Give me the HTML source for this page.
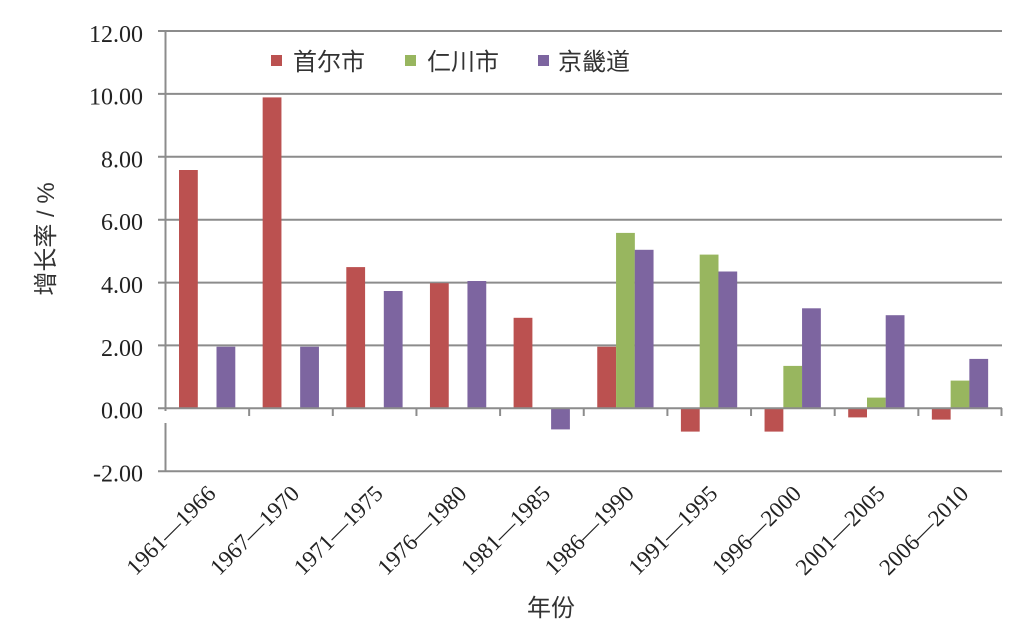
<!DOCTYPE html>
<html>
<head>
<meta charset="utf-8">
<style>
  html, body { margin:0; padding:0; background:#fff; }
  svg { display:block; }
  .yl { font-family:"Liberation Serif", serif; font-size:24px; fill:#222; }
  .xl { font-family:"Liberation Serif", serif; font-size:23px; fill:#222; }
  .cj { font-family:"Liberation Sans","Noto Sans CJK SC", sans-serif; font-size:24px; fill:#333; }
</style>
</head>
<body>
<svg width="1033" height="637" viewBox="0 0 1033 637" xmlns="http://www.w3.org/2000/svg">
  <rect width="1033" height="637" fill="#fff"/>
  <!-- gridlines -->
  <g stroke="#8c8c8c" stroke-width="2">
    <line x1="158" y1="31" x2="1002" y2="31"/>
    <line x1="158" y1="93.9" x2="1002" y2="93.9"/>
    <line x1="158" y1="156.8" x2="1002" y2="156.8"/>
    <line x1="158" y1="219.7" x2="1002" y2="219.7"/>
    <line x1="158" y1="282.6" x2="1002" y2="282.6"/>
    <line x1="158" y1="345.4" x2="1002" y2="345.4"/>
    <line x1="158" y1="471.2" x2="1002" y2="471.2"/>
  </g>
  <!-- bars -->
  <g fill="#BB5150">
    <rect x="179.0" y="170.0" width="18.8" height="238.3"/>
    <rect x="262.65" y="97.4" width="18.8" height="310.9"/>
    <rect x="346.3" y="267.1" width="18.8" height="141.2"/>
    <rect x="429.95" y="283.2" width="18.8" height="125.1"/>
    <rect x="513.6" y="317.8" width="18.8" height="90.5"/>
    <rect x="597.25" y="346.7" width="18.8" height="61.6"/>
    <rect x="680.9" y="408.3" width="18.8" height="23.3"/>
    <rect x="764.55" y="408.3" width="18.8" height="23.3"/>
    <rect x="848.2" y="408.3" width="18.8" height="9.1"/>
    <rect x="931.85" y="408.3" width="18.8" height="11.3"/>
  </g>
  <g fill="#98B65F">
    <rect x="616.05" y="232.9" width="18.8" height="175.4"/>
    <rect x="699.7" y="254.6" width="18.8" height="153.7"/>
    <rect x="783.35" y="365.9" width="18.8" height="42.4"/>
    <rect x="867.0" y="397.6" width="18.8" height="10.7"/>
    <rect x="950.65" y="380.6" width="18.8" height="27.7"/>
  </g>
  <g fill="#7D65A0">
    <rect x="216.5" y="346.7" width="18.8" height="61.6"/>
    <rect x="300.15" y="346.7" width="18.8" height="61.6"/>
    <rect x="383.8" y="291.0" width="18.8" height="117.3"/>
    <rect x="467.45" y="281.0" width="18.8" height="127.3"/>
    <rect x="551.1" y="408.3" width="18.8" height="21.1"/>
    <rect x="634.75" y="249.8" width="18.8" height="158.5"/>
    <rect x="718.4" y="271.5" width="18.8" height="136.8"/>
    <rect x="802.05" y="308.3" width="18.8" height="100.0"/>
    <rect x="885.7" y="315.2" width="18.8" height="93.1"/>
    <rect x="969.35" y="358.9" width="18.8" height="49.4"/>
  </g>
  <!-- axes -->
  <g stroke="#8c8c8c" stroke-width="2">
    <line x1="158" y1="408.3" x2="1002" y2="408.3"/>
    <line x1="165.5" y1="30" x2="165.5" y2="411"/>
    <line x1="165.5" y1="423" x2="165.5" y2="472"/>
    <line x1="249.15" y1="408" x2="249.15" y2="416"/>
    <line x1="332.8" y1="408" x2="332.8" y2="416"/>
    <line x1="416.45" y1="408" x2="416.45" y2="416"/>
    <line x1="500.1" y1="408" x2="500.1" y2="416"/>
    <line x1="583.75" y1="408" x2="583.75" y2="416"/>
    <line x1="667.4" y1="408" x2="667.4" y2="416"/>
    <line x1="751.05" y1="408" x2="751.05" y2="416"/>
    <line x1="834.7" y1="408" x2="834.7" y2="416"/>
    <line x1="918.35" y1="408" x2="918.35" y2="416"/>
    <line x1="1001.5" y1="408" x2="1001.5" y2="416"/>
  </g>
  <!-- y tick labels -->
  <g class="yl" text-anchor="end">
    <text x="143" y="42">12.00</text>
    <text x="143" y="104.5">10.00</text>
    <text x="143" y="167.3">8.00</text>
    <text x="143" y="230.2">6.00</text>
    <text x="143" y="293">4.00</text>
    <text x="143" y="355.8">2.00</text>
    <text x="143" y="418.7">0.00</text>
    <text x="143" y="481.5">-2.00</text>
  </g>
  <!-- x tick labels -->
  <g class="xl" text-anchor="end">
    <text transform="translate(217,495) rotate(-45)">1961—1966</text>
    <text transform="translate(300.6,495) rotate(-45)">1967—1970</text>
    <text transform="translate(384.3,495) rotate(-45)">1971—1975</text>
    <text transform="translate(467.9,495) rotate(-45)">1976—1980</text>
    <text transform="translate(551.6,495) rotate(-45)">1981—1985</text>
    <text transform="translate(635.2,495) rotate(-45)">1986—1990</text>
    <text transform="translate(718.9,495) rotate(-45)">1991—1995</text>
    <text transform="translate(802.5,495) rotate(-45)">1996—2000</text>
    <text transform="translate(886.2,495) rotate(-45)">2001—2005</text>
    <text transform="translate(969.8,495) rotate(-45)">2006—2010</text>
  </g>
  <!-- legend -->
  <rect x="271" y="55" width="11" height="11" fill="#BB5150"/>
  <text class="cj" x="293" y="70">首尔市</text>
  <rect x="405" y="55" width="11" height="11" fill="#98B65F"/>
  <text class="cj" x="427" y="70">仁川市</text>
  <rect x="538" y="55" width="11" height="11" fill="#7D65A0"/>
  <text class="cj" x="558" y="70">京畿道</text>
  <!-- axis titles -->
  <text class="cj" text-anchor="middle" transform="translate(54,239) rotate(-90)">增长率 / %</text>
  <text class="cj" x="551" y="616" text-anchor="middle">年份</text>
</svg>
</body>
</html>
